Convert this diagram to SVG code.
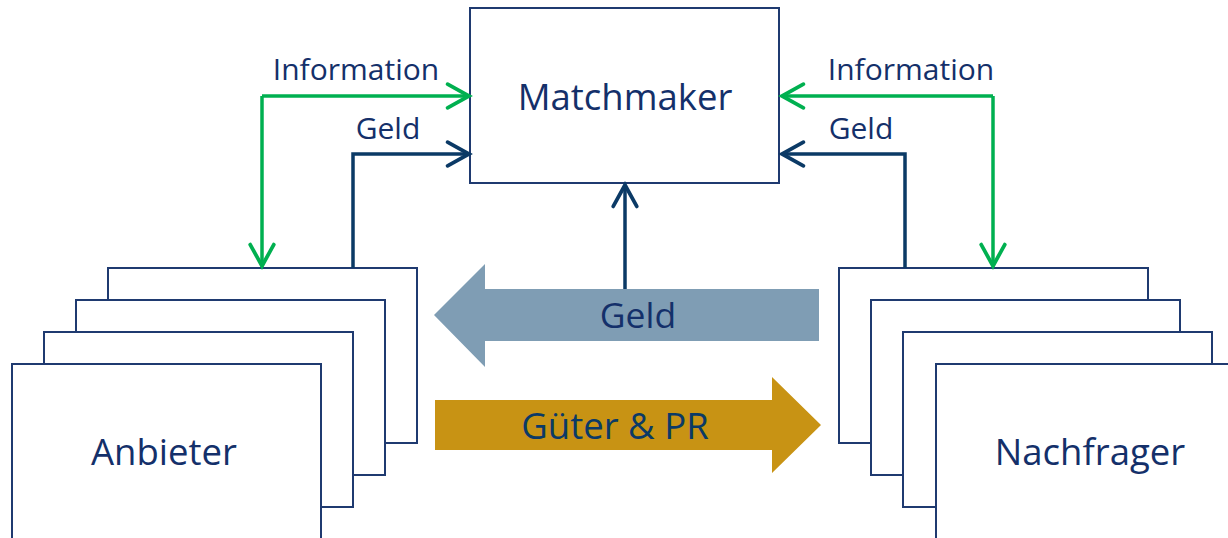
<svg xmlns="http://www.w3.org/2000/svg" width="1228" height="538" viewBox="0 0 1228 538">
<style>
.box{fill:#fff;stroke:#1F3A70;stroke-width:2}
.lbl{font-family:"Open Sans","Liberation Sans",sans-serif;fill:#14306A;text-anchor:middle}
.big{font-size:36.5px}
.small{font-size:30px}
.g{fill:none;stroke:#00B050;stroke-width:3.5}
.b{fill:none;stroke:#0B3A66;stroke-width:3.5}
</style>
<defs>
<marker id="ag" markerUnits="userSpaceOnUse" markerWidth="30" markerHeight="30" viewBox="-24 -14 28 28" refX="0" refY="0" orient="auto">
<path d="M-20,-11 L0,0 L-20,11" fill="none" stroke="#00B050" stroke-width="3.5" stroke-linecap="round" stroke-linejoin="miter"/>
</marker>
<marker id="ab" markerUnits="userSpaceOnUse" markerWidth="30" markerHeight="30" viewBox="-24 -14 28 28" refX="0" refY="0" orient="auto">
<path d="M-20,-11 L0,0 L-20,11" fill="none" stroke="#0B3A66" stroke-width="3.5" stroke-linecap="round" stroke-linejoin="miter"/>
</marker>
</defs>

<g id="flow-arrows">
<path id="geld-arrow" d="M434,315 L485,264 L485,289 L819,289 L819,341 L485,341 L485,367 Z" fill="#7F9DB4"/>
<text class="lbl" x="638" y="328" font-size="35.5">Geld</text>
<path id="gueter-arrow" d="M435,400 L772,400 L772,377 L821,425 L772,473 L772,450 L435,450 Z" fill="#C89314"/>
<text class="lbl" x="615" y="439" font-size="36.5" style="fill:#0B3A66">Güter &amp; PR</text>
</g>

<g id="matchmaker">
<rect class="box" x="470" y="8" width="309" height="175"/>
<text class="lbl big" x="625" y="110">Matchmaker</text>
</g>

<g id="anbieter">
<rect class="box" x="108" y="268" width="309" height="175"/>
<rect class="box" x="76" y="300" width="309" height="175"/>
<rect class="box" x="44" y="332" width="309" height="175"/>
<rect class="box" x="12" y="364" width="309" height="175"/>
<text class="lbl big" x="164" y="465">Anbieter</text>
</g>

<g id="nachfrager">
<rect class="box" x="839" y="268" width="309" height="175"/>
<rect class="box" x="871" y="300" width="309" height="175"/>
<rect class="box" x="903" y="332" width="309" height="175"/>
<rect class="box" x="936" y="364" width="309" height="175"/>
<text class="lbl big" x="1090" y="465">Nachfrager</text>
</g>

<g id="connectors">
<path class="g" d="M262,96 L469,96" marker-end="url(#ag)"/>
<path class="g" d="M262,96 L262,266" marker-end="url(#ag)"/>
<path class="b" d="M353,268 L353,154 L469,154" marker-end="url(#ab)"/>
<path class="g" d="M993,96 L782,96" marker-end="url(#ag)"/>
<path class="g" d="M993,96 L993,266" marker-end="url(#ag)"/>
<path class="b" d="M905,268 L905,154 L782,154" marker-end="url(#ab)"/>
<path class="b" d="M625,289 L625,185" marker-end="url(#ab)"/>
<text class="lbl small" x="356" y="80">Information</text>
<text class="lbl small" x="388" y="139">Geld</text>
<text class="lbl small" x="911" y="80">Information</text>
<text class="lbl small" x="861" y="139">Geld</text>
</g>
</svg>
